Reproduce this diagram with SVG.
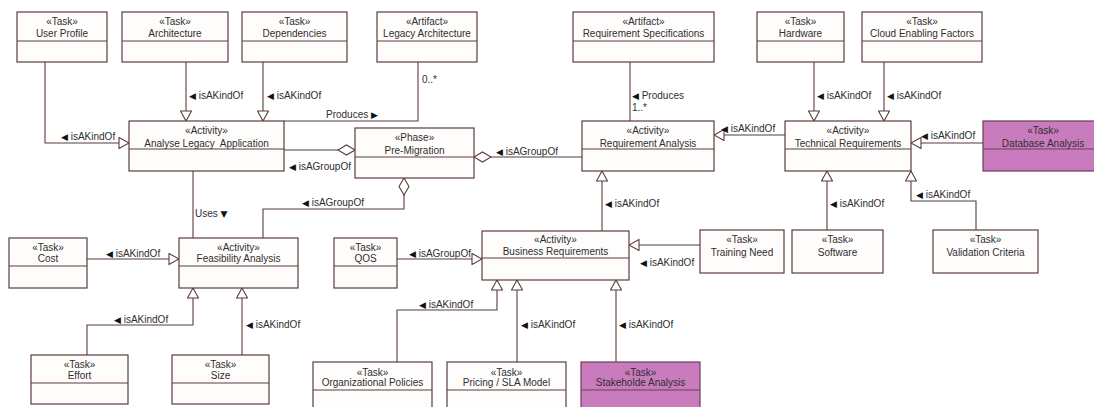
<svg xmlns="http://www.w3.org/2000/svg" width="1094" height="407" viewBox="0 0 1094 407">
  <style>
    .box { fill: #fffdfc; stroke: #5b3c3c; stroke-width: 1.2; }
    .hot { fill: #c97cbd; stroke: #6e3d55; stroke-width: 1.2; }
    .div { stroke: #5b3c3c; stroke-width: 1.1; fill: none; }
    .divh { stroke: #6e3d55; stroke-width: 1.1; fill: none; }
    text { font-family: "Liberation Sans", Arial, "DejaVu Sans", sans-serif; font-size: 10px; fill: #2e2e2e; }
    .c { text-anchor: middle; }
    .tri { font-family: "DejaVu Sans", sans-serif; font-size: 9px; fill: #111111; }
    .edge { fill: none; stroke: #5b3c3c; stroke-width: 1.1; }
    .gen { marker-end: url(#hollowTri); }
    .agg { marker-start: url(#hollowDiamond); }
  </style>
  <defs>
    <marker id="hollowTri" markerUnits="userSpaceOnUse" markerWidth="12" markerHeight="12" refX="10" refY="5.5" orient="auto" viewBox="-1 -0.5 12 12">
      <path d="M0,0 L10,5.5 L0,11 Z" fill="#ffffff" stroke="#5b3c3c" stroke-width="1.1"/>
    </marker>
    <marker id="hollowDiamond" markerUnits="userSpaceOnUse" markerWidth="19" markerHeight="12" refX="0" refY="5" orient="auto" viewBox="-1 -1 19 12">
      <path d="M0,5 L8.5,0 L17,5 L8.5,10 Z" fill="#ffffff" stroke="#5b3c3c" stroke-width="1.1"/>
    </marker>
  </defs>

  <rect width="1094" height="407" fill="#ffffff"/>

  <!-- connectors -->
  <g id="connectors">
    <path class="edge gen" d="M45,62 V143 H129"/>
    <path class="edge gen" d="M186,62 V121"/>
    <path class="edge gen" d="M263,62 V121"/>
    <path class="edge" d="M418,62 V121 H284"/>
    <path class="edge agg" d="M355,150 H284"/>
    <path class="edge agg" d="M404,178 V209 H263 V238"/>
    <path class="edge agg" d="M474,157 H582"/>
    <path class="edge" d="M630,62 V121"/>
    <path class="edge gen" d="M785,135 H714"/>
    <path class="edge gen" d="M814,62 V121"/>
    <path class="edge gen" d="M884,62 V121"/>
    <path class="edge gen" d="M983,143 H911"/>
    <path class="edge gen" d="M827,230 V171"/>
    <path class="edge gen" d="M976,230 V201 H911 V171"/>
    <path class="edge gen" d="M602,231 V171"/>
    <path class="edge gen" d="M700,245 H629"/>
    <path class="edge gen" d="M397,259 H482"/>
    <path class="edge" d="M193,171 V238"/>
    <path class="edge gen" d="M87,259 H179"/>
    <path class="edge gen" d="M87,355 V325 H193 V288"/>
    <path class="edge gen" d="M242,355 V288"/>
    <path class="edge gen" d="M397,362 V310 H497 V280"/>
    <path class="edge gen" d="M517,362 V280"/>
    <path class="edge gen" d="M616,362 V280"/>

    <!-- connector labels -->
    <text x="61" y="139.5"><tspan class="tri">◀</tspan> isAKindOf</text>
    <text x="189" y="98.5"><tspan class="tri">◀</tspan> isAKindOf</text>
    <text x="267" y="98.5"><tspan class="tri">◀</tspan> isAKindOf</text>
    <text x="422" y="83">0..*</text>
    <text x="326" y="117.5">Produces <tspan class="tri">▶</tspan></text>
    <text x="289" y="169.5"><tspan class="tri">◀</tspan> isAGroupOf</text>
    <text x="302" y="205.5"><tspan class="tri">◀</tspan> isAGroupOf</text>
    <text x="496" y="154.5"><tspan class="tri">◀</tspan> isAGroupOf</text>
    <text x="632" y="98.5"><tspan class="tri">◀</tspan> Produces</text>
    <text x="632" y="110.5">1..*</text>
    <text x="721" y="131.5"><tspan class="tri">◀</tspan> isAKindOf</text>
    <text x="817" y="98.5"><tspan class="tri">◀</tspan> isAKindOf</text>
    <text x="887" y="98.5"><tspan class="tri">◀</tspan> isAKindOf</text>
    <text x="921" y="138.5"><tspan class="tri">◀</tspan> isAKindOf</text>
    <text x="830" y="206.5"><tspan class="tri">◀</tspan> isAKindOf</text>
    <text x="916" y="197.5"><tspan class="tri">◀</tspan> isAKindOf</text>
    <text x="605" y="206.5"><tspan class="tri">◀</tspan> isAKindOf</text>
    <text x="640" y="265.5"><tspan class="tri">◀</tspan> isAKindOf</text>
    <text x="409" y="256.5"><tspan class="tri">◀</tspan> isAGroupOf</text>
    <text x="195" y="216.5">Uses <tspan class="tri">▼</tspan></text>
    <text x="106" y="256.5"><tspan class="tri">◀</tspan> isAKindOf</text>
    <text x="114" y="322.5"><tspan class="tri">◀</tspan> isAKindOf</text>
    <text x="246" y="327.5"><tspan class="tri">◀</tspan> isAKindOf</text>
    <text x="419" y="307.5"><tspan class="tri">◀</tspan> isAKindOf</text>
    <text x="521" y="327.5"><tspan class="tri">◀</tspan> isAKindOf</text>
    <text x="619" y="327.5"><tspan class="tri">◀</tspan> isAKindOf</text>
  </g>

  <!-- top row -->
  <g id="user-profile">
    <rect class="box" x="17" y="12" width="90" height="50"/>
    <path class="div" d="M17,41 H107"/>
    <text class="c" x="62" y="25">«Task»</text>
    <text class="c" x="62" y="37">User Profile</text>
  </g>
  <g id="architecture">
    <rect class="box" x="122" y="12" width="106" height="50"/>
    <path class="div" d="M122,41 H228"/>
    <text class="c" x="175" y="25">«Task»</text>
    <text class="c" x="175" y="37">Architecture</text>
  </g>
  <g id="dependencies">
    <rect class="box" x="242" y="12" width="105" height="50"/>
    <path class="div" d="M242,41 H347"/>
    <text class="c" x="294.5" y="25">«Task»</text>
    <text class="c" x="294.5" y="37">Dependencies</text>
  </g>
  <g id="legacy-architecture">
    <rect class="box" x="377" y="12" width="100" height="50"/>
    <path class="div" d="M377,41 H477"/>
    <text class="c" x="427" y="25">«Artifact»</text>
    <text class="c" x="427" y="37">Legacy Architecture</text>
  </g>
  <g id="requirement-specifications">
    <rect class="box" x="573" y="12" width="141" height="50"/>
    <path class="div" d="M573,41 H714"/>
    <text class="c" x="643.5" y="25">«Artifact»</text>
    <text class="c" x="643.5" y="37">Requirement Specifications</text>
  </g>
  <g id="hardware">
    <rect class="box" x="757" y="12" width="87" height="50"/>
    <path class="div" d="M757,41 H844"/>
    <text class="c" x="800.5" y="25">«Task»</text>
    <text class="c" x="800.5" y="37">Hardware</text>
  </g>
  <g id="cloud-enabling-factors">
    <rect class="box" x="862" y="12" width="120" height="50"/>
    <path class="div" d="M862,41 H982"/>
    <text class="c" x="922" y="25">«Task»</text>
    <text class="c" x="922" y="37">Cloud Enabling Factors</text>
  </g>

  <!-- middle row -->
  <g id="analyse-legacy-application">
    <rect class="box" x="129" y="121" width="155" height="50"/>
    <path class="div" d="M129,149 H284"/>
    <text class="c" x="206.5" y="134">«Activity»</text>
    <text class="c" x="206.5" y="146.5" xml:space="preserve">Analyse Legacy  Application</text>
  </g>
  <g id="pre-migration">
    <rect class="box" x="355" y="128" width="119" height="50"/>
    <path class="div" d="M355,157 H474"/>
    <text class="c" x="414.5" y="141">«Phase»</text>
    <text class="c" x="414.5" y="153.5">Pre-Migration</text>
  </g>
  <g id="requirement-analysis">
    <rect class="box" x="582" y="121" width="132" height="50"/>
    <path class="div" d="M582,149 H714"/>
    <text class="c" x="648" y="134">«Activity»</text>
    <text class="c" x="648" y="146.5">Requirement Analysis</text>
  </g>
  <g id="technical-requirements">
    <rect class="box" x="785" y="121" width="126" height="50"/>
    <path class="div" d="M785,149 H911"/>
    <text class="c" x="848" y="134">«Activity»</text>
    <text class="c" x="848" y="146.5">Technical Requirements</text>
  </g>
  <g id="database-analysis">
    <rect class="hot" x="983" y="121" width="121" height="50"/>
    <path class="divh" d="M983,149 H1104"/>
    <text class="c" x="1043" y="134">«Task»</text>
    <text class="c" x="1043" y="146.5">Database Analysis</text>
  </g>

  <!-- third row -->
  <g id="cost">
    <rect class="box" x="9" y="238" width="78" height="50"/>
    <path class="div" d="M9,266 H87"/>
    <text class="c" x="48" y="250.5">«Task»</text>
    <text class="c" x="48" y="261.5">Cost</text>
  </g>
  <g id="feasibility-analysis">
    <rect class="box" x="179" y="238" width="119" height="50"/>
    <path class="div" d="M179,266 H298"/>
    <text class="c" x="238.5" y="250.5">«Activity»</text>
    <text class="c" x="238.5" y="261.5">Feasibility Analysis</text>
  </g>
  <g id="qos">
    <rect class="box" x="334" y="238" width="63" height="50"/>
    <path class="div" d="M334,266 H397"/>
    <text class="c" x="365.5" y="250.5">«Task»</text>
    <text class="c" x="365.5" y="261.5">QOS</text>
  </g>
  <g id="business-requirements">
    <rect class="box" x="482" y="231" width="147" height="49"/>
    <path class="div" d="M482,258 H629"/>
    <text class="c" x="555.5" y="242.5">«Activity»</text>
    <text class="c" x="555.5" y="255">Business Requirements</text>
  </g>
  <g id="training-need">
    <rect class="box" x="700" y="230" width="84" height="43"/>
    <text class="c" x="742" y="243">«Task»</text>
    <text class="c" x="742" y="255.5">Training Need</text>
  </g>
  <g id="software">
    <rect class="box" x="792" y="230" width="91" height="43"/>
    <text class="c" x="837.5" y="243">«Task»</text>
    <text class="c" x="837.5" y="255.5">Software</text>
  </g>
  <g id="validation-criteria">
    <rect class="box" x="933" y="230" width="105" height="43"/>
    <text class="c" x="985.5" y="243">«Task»</text>
    <text class="c" x="985.5" y="255.5">Validation Criteria</text>
  </g>

  <!-- bottom row -->
  <g id="effort">
    <rect class="box" x="31" y="355" width="97" height="49"/>
    <path class="div" d="M31,383 H128"/>
    <text class="c" x="79.5" y="367.5">«Task»</text>
    <text class="c" x="79.5" y="378.5">Effort</text>
  </g>
  <g id="size">
    <rect class="box" x="172" y="355" width="97" height="49"/>
    <path class="div" d="M172,383 H269"/>
    <text class="c" x="220.5" y="367.5">«Task»</text>
    <text class="c" x="220.5" y="378.5">Size</text>
  </g>
  <g id="organizational-policies">
    <rect class="box" x="313" y="362" width="119" height="52"/>
    <path class="div" d="M313,390 H432"/>
    <text class="c" x="372.5" y="375.5">«Task»</text>
    <text class="c" x="372.5" y="386">Organizational Policies</text>
  </g>
  <g id="pricing-sla-model">
    <rect class="box" x="447" y="362" width="119" height="52"/>
    <path class="div" d="M447,390 H566"/>
    <text class="c" x="506.5" y="375.5">«Task»</text>
    <text class="c" x="506.5" y="386">Pricing / SLA Model</text>
  </g>
  <g id="stakeholde-analysis">
    <rect class="hot" x="581" y="362" width="119" height="52"/>
    <path class="divh" d="M581,390 H700"/>
    <text class="c" x="640.5" y="375.5">«Task»</text>
    <text class="c" x="640.5" y="386">Stakeholde Analysis</text>
  </g>
</svg>
